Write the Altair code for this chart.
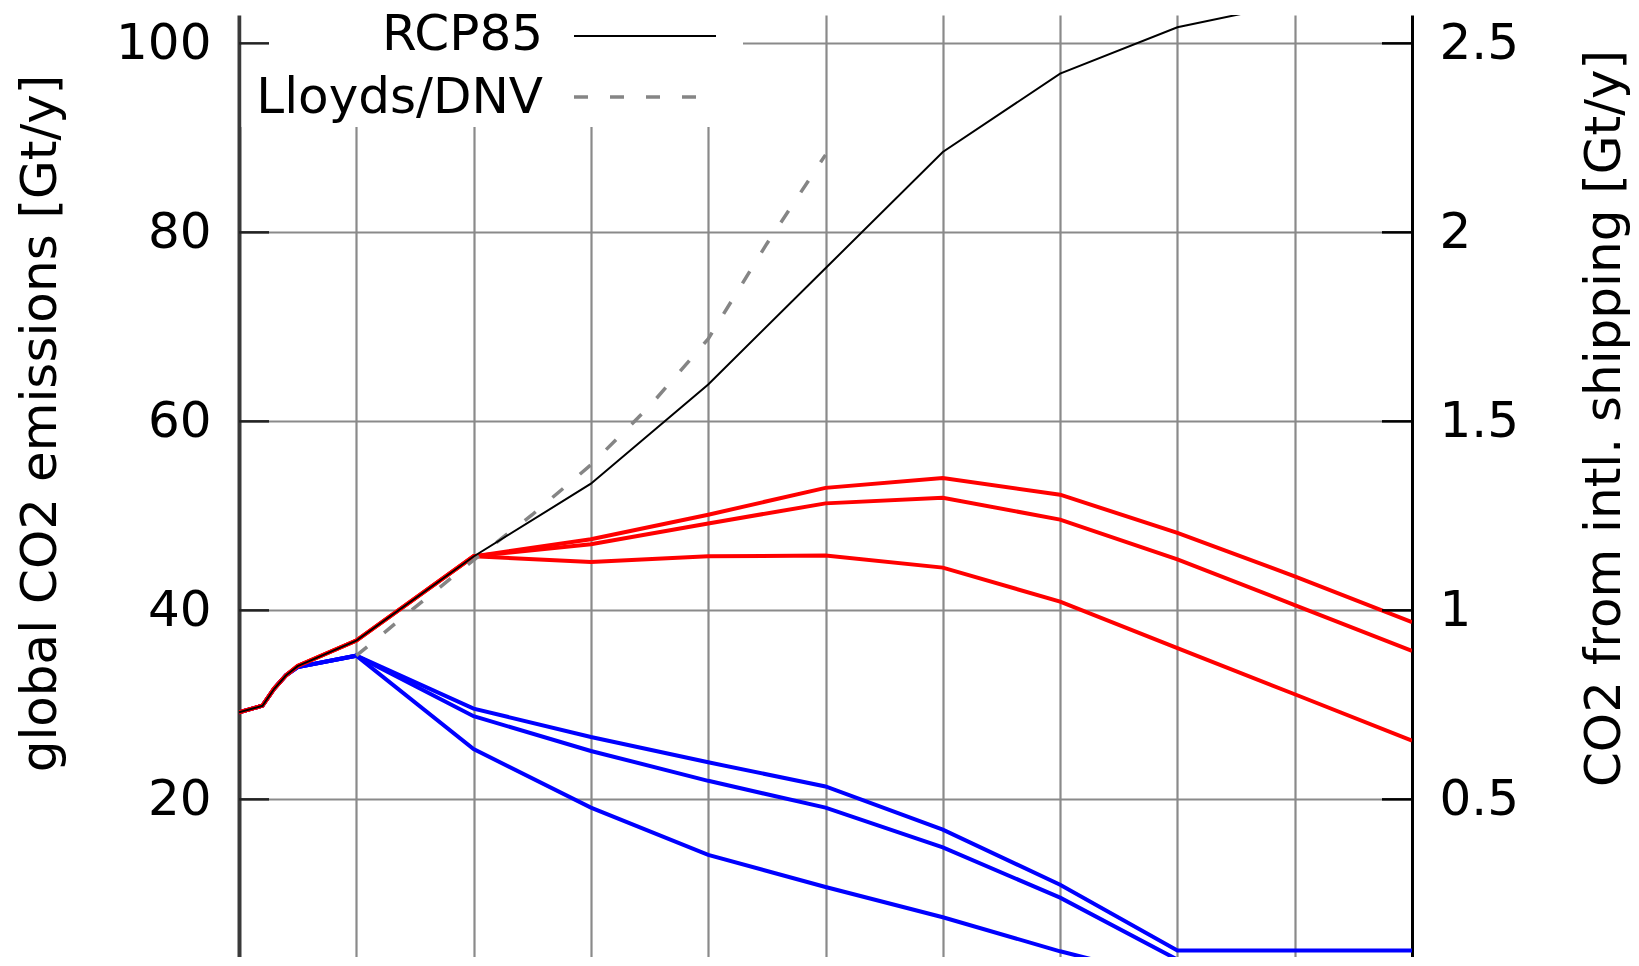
import altair as alt
import pandas as pd

# ---------------- data ----------------
rcp_years = [2000, 2002, 2003, 2004, 2005, 2010, 2020, 2030, 2040, 2050, 2060, 2070, 2080, 2090, 2100]
rcp85 = [29.2, 29.9, 31.7, 33.1, 34.1, 36.8, 45.7, 53.4, 63.9, 76.2, 88.5, 96.8, 101.7, 104.3, 105.6]

ship_years = [2000, 2002, 2003, 2004, 2005, 2010, 2020, 2030, 2040, 2050, 2060, 2070, 2080, 2090, 2100]
red_high = [0.730, 0.748, 0.793, 0.828, 0.853, 0.920, 1.143, 1.188, 1.253, 1.324, 1.350, 1.306, 1.205, 1.090, 0.969]
red_mid = [0.730, 0.748, 0.793, 0.828, 0.853, 0.920, 1.143, 1.175, 1.230, 1.283, 1.298, 1.240, 1.135, 1.014, 0.893]
red_low = [0.730, 0.748, 0.793, 0.828, 0.853, 0.920, 1.143, 1.128, 1.143, 1.145, 1.113, 1.023, 0.900, 0.778, 0.655]
blue_high = [0.730, 0.748, 0.793, 0.828, 0.850, 0.880, 0.740, 0.665, 0.598, 0.534, 0.420, 0.274, 0.100, 0.100, 0.100]
blue_mid = [0.730, 0.748, 0.793, 0.828, 0.850, 0.880, 0.720, 0.628, 0.549, 0.478, 0.373, 0.240, 0.076, 0.076, 0.076]
blue_low = [0.730, 0.748, 0.793, 0.828, 0.850, 0.880, 0.633, 0.478, 0.353, 0.268, 0.188, 0.098, 0.020, 0.020, 0.020]

lloyds_years = [2010, 2015, 2020, 2025, 2030, 2035, 2040, 2045, 2050]
lloyds_dnv = [0.880, 1.008, 1.133, 1.253, 1.385, 1.540, 1.718, 1.970, 2.205]

left_tick_values = [20, 40, 60, 80, 100]
right_tick_values = [0.5, 1, 1.5, 2, 2.5]
x_grid_values = [2010, 2020, 2030, 2040, 2050, 2060, 2070, 2080, 2090]
legend_labels = ["RCP85", "Lloyds/DNV"]

left_title = "global CO2 emissions [Gt/y]"
right_title = "CO2 from intl. shipping [Gt/y]"

# ---------------- tables ----------------
rcp_df = pd.DataFrame({"year": rcp_years, "value": rcp85})
rows = []
for name, vals, kind in [
    ("red_high", red_high, "red"), ("red_mid", red_mid, "red"), ("red_low", red_low, "red"),
    ("blue_high", blue_high, "blue"), ("blue_mid", blue_mid, "blue"), ("blue_low", blue_low, "blue"),
]:
    for y, v in zip(ship_years, vals):
        rows.append({"year": y, "value": v, "series": name, "kind": kind})
ship_df = pd.DataFrame(rows)
lloyds_df = pd.DataFrame({"year": lloyds_years, "value": lloyds_dnv})
blank = pd.DataFrame({"k": [0]})

# ---------------- layout ----------------
W, H = 1173, 942
Y_LO, Y_HI = 3.317, 103.0
RATIO = 40.0
FONT = "DejaVu Sans"
GRID = "#8a8a8a"

xscale = alt.Scale(domain=[2000, 2100], zero=False, nice=False)
yscale = alt.Scale(domain=[Y_LO, Y_HI], zero=False, nice=False)
y2scale = alt.Scale(domain=[Y_LO / RATIO, Y_HI / RATIO], zero=False, nice=False)

x_axis = alt.Axis(
    orient="bottom", values=x_grid_values, grid=True, gridColor=GRID, gridWidth=2.2,
    labels=False, ticks=False, domain=False, title=None,
)
y_axis = alt.Axis(
    orient="left", values=left_tick_values, grid=True, gridColor=GRID, gridWidth=2.2,
    ticks=False, labelPadding=28, labelFont=FONT, labelFontSize=50, labelColor="black",
    labelFlush=False, domain=True, domainColor="#3a3a3a", domainWidth=4,
    title=left_title, titleFont=FONT, titleFontSize=50, titleFontWeight="normal",
    titleColor="black", titleAngle=270, titleX=-184, titleY=408,
    titleBaseline="alphabetic", titleAlign="center",
)

bg = alt.Chart(blank).mark_rect(color="white").encode(
    x=alt.value(2.5), x2=alt.value(504), y=alt.value(0), y2=alt.value(112)
)

left_ticks = alt.Chart(pd.DataFrame({"v": left_tick_values})).mark_rule(
    color="#222222", strokeWidth=2.5
).encode(
    y=alt.Y("v:Q", scale=yscale, axis=y_axis),
    x=alt.value(0), x2=alt.value(30),
)

ship_base = alt.Chart(ship_df).transform_calculate(left="datum.value * 40")
blue_lines = ship_base.transform_filter("datum.kind == 'blue'").mark_line(
    color="#0000ff", strokeWidth=4, clip=True
).encode(
    x=alt.X("year:Q", scale=xscale, axis=x_axis),
    y=alt.Y("left:Q", scale=yscale, axis=y_axis),
    detail="series:N",
)
red_lines = ship_base.transform_filter("datum.kind == 'red'").mark_line(
    color="#ff0000", strokeWidth=4, clip=True
).encode(
    x=alt.X("year:Q", scale=xscale, axis=x_axis),
    y=alt.Y("left:Q", scale=yscale, axis=y_axis),
    detail="series:N",
)
lloyds_line = alt.Chart(lloyds_df).transform_calculate(left="datum.value * 40").mark_line(
    color="#858585", strokeWidth=3.5, strokeDash=[14, 22], clip=True
).encode(
    x=alt.X("year:Q", scale=xscale, axis=x_axis),
    y=alt.Y("left:Q", scale=yscale, axis=y_axis),
)
rcp_line = alt.Chart(rcp_df).mark_line(color="black", strokeWidth=2, clip=True).encode(
    x=alt.X("year:Q", scale=xscale, axis=x_axis),
    y=alt.Y("value:Q", scale=yscale, axis=y_axis),
)

leg_text1 = alt.Chart(blank).mark_text(
    font=FONT, fontSize=50, align="right", baseline="alphabetic", color="black"
).encode(x=alt.value(304), y=alt.value(35), text=alt.value(legend_labels[0]))
leg_text2 = alt.Chart(blank).mark_text(
    font=FONT, fontSize=50, align="right", baseline="alphabetic", color="black"
).encode(x=alt.value(304), y=alt.value(98), text=alt.value(legend_labels[1]))
leg_line1 = alt.Chart(blank).mark_rule(color="black", strokeWidth=2).encode(
    x=alt.value(335), x2=alt.value(477), y=alt.value(21)
)
leg_line2 = alt.Chart(blank).mark_rule(color="#858585", strokeWidth=3.5, strokeDash=[14, 22]).encode(
    x=alt.value(335), x2=alt.value(463), y=alt.value(82)
)

left_layer = alt.layer(
    bg, left_ticks, blue_lines, red_lines, lloyds_line, rcp_line,
    leg_text1, leg_text2, leg_line1, leg_line2,
)

right_ticks = alt.Chart(pd.DataFrame({"v": right_tick_values})).mark_rule(
    color="black", strokeWidth=2.5
).encode(
    y=alt.Y("v:Q", scale=y2scale, axis=alt.Axis(
        orient="right", values=right_tick_values, grid=False, ticks=False, format="~g",
        labelPadding=27, labelFont=FONT, labelFontSize=50, labelColor="black",
        labelFlush=False, domain=True, domainColor="black", domainWidth=3,
        title=right_title, titleFont=FONT, titleFontSize=50, titleFontWeight="normal",
        titleColor="black", titleAngle=270, titleX=207, titleY=403,
        titleBaseline="alphabetic", titleAlign="center",
    )),
    x=alt.value(W - 30), x2=alt.value(W),
)

chart = alt.layer(left_layer, right_ticks).resolve_scale(y="independent").properties(
    width=W, height=H,
    autosize=alt.AutoSizeParams(type="none"),
    padding={"left": 231, "top": 7, "right": 219, "bottom": 0},
    background="white",
).configure_view(stroke="transparent")

chart.save("out.html", embed_options={"renderer": "svg", "actions": False})
